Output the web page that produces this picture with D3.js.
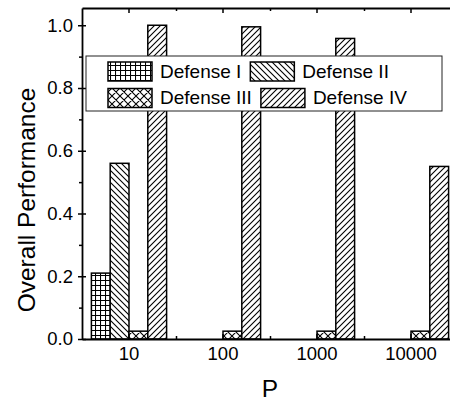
<!DOCTYPE html>
<html>
<head>
<meta charset="utf-8">
<script src="https://cdn.jsdelivr.net/npm/d3@7"></script>
<style>
  html, body { margin: 0; padding: 0; background: #fff; }
  svg { display: block; font-family: "Liberation Sans", Arial, Helvetica, sans-serif; }
</style>
</head>
<body>
<svg id="chart" width="450" height="405"></svg>
<script>
// Categories on the x axis (parameter P)
const categories = ["10", "100", "1000", "10000"];
// One entry per defense; values are overall performance per P
const seriesNames = ["Defense I", "Defense II", "Defense III", "Defense IV"];
const defenseI   = [0.21, 0, 0, 0];
const defenseII  = [0.56, 0, 0, 0];
const defenseIII = [0.025, 0.025, 0.025, 0.025];
const defenseIV  = [1.0, 0.995, 0.958, 0.55];
const yMajorTicks = [0, 0.2, 0.4, 0.6, 0.8, 1.0];
const yMinorTicks = [0.1, 0.3, 0.5, 0.7, 0.9];

const seriesValues = [defenseI, defenseII, defenseIII, defenseIV];
const patternIds = ["pat-grid", "pat-back", "pat-cross", "pat-fwd"];

const svg = d3.select("#chart");
const plotLeft = 82, plotRight = 458, plotTop = 8, plotBottom = 339;

const x0 = d3.scaleBand().domain(categories).range([plotLeft, plotRight]).padding(0);
const x1 = d3.scaleBand().domain(seriesNames)
  .range([x0.bandwidth() * 0.1, x0.bandwidth() * 0.9]).padding(0);
const y = d3.scaleLinear().domain([0, 1.055]).range([plotBottom, plotTop]);

// Fill patterns
const defs = svg.append("defs");
function pattern(id, size, d) {
  const p = defs.append("pattern").attr("id", id)
    .attr("patternUnits", "userSpaceOnUse")
    .attr("width", size).attr("height", size);
  p.append("rect").attr("width", size).attr("height", size).attr("fill", "#fff");
  p.append("path").attr("d", d).attr("stroke", "#000")
    .attr("stroke-width", 1.1).attr("fill", "none");
}
pattern("pat-grid", 5, "M0,0.5H5M0.5,0V5");
pattern("pat-back", 6, "M0,0L6,6M-1,5L1,7M5,-1L7,1");
pattern("pat-fwd", 6, "M0,6L6,0M-1,1L1,-1M5,7L7,5");
pattern("pat-cross", 8, "M0,0L8,8M-1,7L1,9M7,-1L9,1M0,8L8,0M-1,1L1,-1M7,9L9,7");

// Bars
const rows = [];
seriesNames.forEach((s, si) => {
  categories.forEach((c, ci) => rows.push({ s, si, c, v: seriesValues[si][ci] }));
});
svg.append("g").selectAll("rect").data(rows.filter(d => d.v > 0)).join("rect")
  .attr("x", d => x0(d.c) + x1(d.s))
  .attr("y", d => y(d.v))
  .attr("width", x1.bandwidth())
  .attr("height", d => y(0) - y(d.v))
  .attr("fill", d => `url(#${patternIds[d.si]})`)
  .attr("stroke", "#000").attr("stroke-width", 1.5);

// Axes
const fontSize = "18.5px";
const boundaries = categories.slice(1).map(c => x0(c));
const ident = d3.scaleIdentity();

const gx = svg.append("g").attr("transform", `translate(0,${plotBottom})`)
  .call(d3.axisBottom(x0).tickSizeInner(-5).tickSizeOuter(0).tickPadding(0));
gx.selectAll("text").attr("y", 21).attr("dy", null)
  .style("font-size", fontSize).attr("fill", "#000").style("font-family", "inherit");
svg.append("g").attr("transform", `translate(0,${plotBottom})`)
  .call(d3.axisBottom(ident).tickValues(boundaries).tickSizeInner(-3).tickSizeOuter(0).tickFormat(""))
  .select(".domain").remove();

svg.append("g").attr("transform", `translate(0,${plotTop})`)
  .call(d3.axisTop(x0).tickSizeInner(-5).tickSizeOuter(0).tickFormat(""));
svg.append("g").attr("transform", `translate(0,${plotTop})`)
  .call(d3.axisTop(ident).tickValues(boundaries).tickSizeInner(-3).tickSizeOuter(0).tickFormat(""))
  .select(".domain").remove();

const gy = svg.append("g").attr("transform", `translate(${plotLeft},0)`)
  .call(d3.axisLeft(y).tickValues(yMajorTicks).tickFormat(d3.format(".1f"))
    .tickSizeInner(4).tickSizeOuter(0).tickPadding(5));
gy.selectAll(".tick line").attr("x1", 4);
gy.selectAll("text").style("font-size", fontSize).attr("fill", "#000")
  .style("font-family", "inherit");
const gym = svg.append("g").attr("transform", `translate(${plotLeft},0)`)
  .call(d3.axisLeft(y).tickValues(yMinorTicks).tickFormat("").tickSizeInner(3).tickSizeOuter(0));
gym.select(".domain").remove();

svg.selectAll(".domain").attr("stroke", "#000").attr("stroke-width", 1.8);
svg.selectAll(".tick line").attr("stroke", "#000").attr("stroke-width", 1.5);

// Axis titles
svg.append("text").attr("transform", "translate(35,200) rotate(-90)")
  .attr("text-anchor", "middle").style("font-size", "24.5px").attr("fill", "#000")
  .text("Overall Performance");
svg.append("text").attr("x", 270).attr("y", 397)
  .attr("text-anchor", "middle").style("font-size", "24.5px").attr("fill", "#000")
  .text("P");

// Legend
const lg = svg.append("g");
lg.append("rect").attr("x", 86).attr("y", 56).attr("width", 356).attr("height", 55)
  .attr("fill", "#fff").attr("stroke", "#222").attr("stroke-width", 1);
const legendRows = [[0, 1], [2, 3]];
legendRows.forEach((items, r) => {
  let cx = 108;
  const cy = 71.5 + r * 26.5;
  items.forEach((si) => {
    lg.append("rect").attr("x", cx).attr("y", cy - 9.5).attr("width", 44).attr("height", 19)
      .attr("fill", `url(#${patternIds[si]})`).attr("stroke", "#000").attr("stroke-width", 1.5);
    const t = lg.append("text").attr("x", cx + 52).attr("y", cy + 6)
      .style("font-size", "19px").attr("fill", "#000").text(seriesNames[si]);
    cx = cx + 52 + t.node().getComputedTextLength() + 9;
  });
});
</script>
</body>
</html>
